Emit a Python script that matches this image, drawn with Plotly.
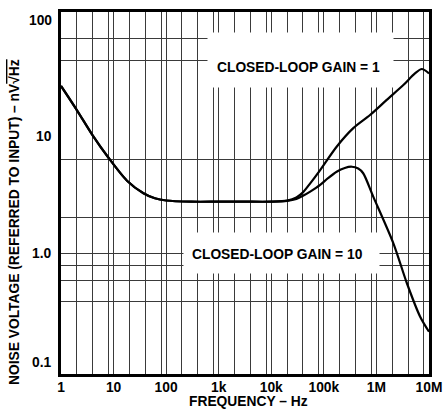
import math
import plotly.graph_objects as go

# ---- data ----
freq_g1 = [1, 2, 4, 8, 18, 37, 61, 100, 300, 1e3, 3e3, 1e4, 2e4, 3e4, 4e4, 5.5e4,
           8.5e4, 1.75e5, 3.63e5, 7.55e5, 1.57e6, 3.25e6, 5.4e6, 7.3e6, 1e7]
noise_g1 = [24.4, 15.4, 9.5, 6.2, 4.0, 3.15, 2.86, 2.74, 2.68, 2.68, 2.68, 2.68, 2.73, 2.9,
            3.2, 3.8, 4.9, 7.65, 10.9, 14.0, 18.7, 24.8, 31, 33.7, 31]

freq_g10 = [1, 2, 4, 8, 18, 37, 61, 100, 300, 1e3, 3e3, 1e4, 2e4, 3e4, 4e4, 5.5e4,
            8.5e4, 1.2e5, 1.75e5, 2.5e5, 3.4e5, 4.5e5, 5.6e5, 8.7e5, 2.1e6, 3.8e6, 6.75e6, 1e7]
noise_g10 = [24.4, 15.4, 9.5, 6.2, 4.0, 3.15, 2.86, 2.74, 2.68, 2.68, 2.68, 2.68, 2.72, 2.82,
             3.0, 3.25, 3.69, 4.2, 4.75, 5.1, 5.22, 5.05, 4.61, 2.95, 1.21, 0.565, 0.30, 0.224]

x_tick_vals = [1, 10, 100, 1e3, 1e4, 1e5, 1e6, 1e7]
x_tick_text = ["1", "10", "100", "1k", "10k", "100k", "1M", "10M"]
y_tick_vals = [0.1, 1, 10, 100]
y_tick_text = ["0.1", "1.0", "10", "100"]
y_tick_shift = [12, 0, -3.5, -8]

# grid lines: dark and light ones, as on the reference graph paper
x_grid_dark = [m * 10 ** d for d in range(0, 7) for m in (2, 4, 8)]
x_grid_light = [6 * 10 ** d for d in range(0, 7)]
y_grid_dark = [0.4, 0.6, 0.8, 1, 2, 6, 40, 60]
y_grid_light = [0.2, 4, 8, 10, 20, 80]

label_g1 = "CLOSED-LOOP GAIN = 1"
label_g10 = "CLOSED-LOOP GAIN = 10"
x_title = "FREQUENCY – Hz"
y_title = "NOISE VOLTAGE (REFERRED TO INPUT) – nV<span style='text-decoration:overline'>√Hz</span>"

FONT = "Liberation Sans, Arial, Helvetica, sans-serif"
FS = 13.8
GRID = "#3a3a3a"
GRID_LIGHT = "#a8a8a8"

fig = go.Figure()
fig.add_trace(go.Scatter(x=freq_g1, y=noise_g1, mode="lines",
                         line=dict(color="black", width=2.2, shape="spline", smoothing=0.8),
                         showlegend=False, hoverinfo="skip"))
fig.add_trace(go.Scatter(x=freq_g10, y=noise_g10, mode="lines",
                         line=dict(color="black", width=2.2, shape="spline", smoothing=0.8),
                         showlegend=False, hoverinfo="skip"))

fig.update_layout(
    xaxis=dict(type="log", range=[0, 7], tickvals=x_tick_vals, ticktext=x_tick_text,
               tickfont=dict(family=FONT, size=FS, color="black", weight="bold"),
               showgrid=True, gridcolor=GRID, gridwidth=1, ticks="",
               showline=True, linecolor="black", linewidth=2.5, mirror=True,
               minor=dict(tickvals=x_grid_dark, showgrid=True, gridcolor=GRID, gridwidth=1, ticks=""),
               zeroline=False, ticklabelstandoff=-1, automargin=False),
    xaxis2=dict(type="log", range=[0, 7], matches="x", overlaying="x", anchor="y",
                tickvals=x_grid_light, showticklabels=False, ticks="",
                showgrid=True, gridcolor=GRID_LIGHT, gridwidth=1,
                showline=False, zeroline=False, automargin=False),
    yaxis=dict(type="log", range=[-1, 2], tickvals=y_tick_vals, showticklabels=False,
               showgrid=False, ticks="",
               showline=True, linecolor="black", linewidth=2.5, mirror=True,
               minor=dict(tickvals=y_grid_dark, showgrid=True, gridcolor=GRID, gridwidth=1, ticks=""),
               zeroline=False, automargin=False),
    yaxis2=dict(type="log", range=[-1, 2], matches="y", overlaying="y", anchor="x",
                tickvals=y_grid_light, showticklabels=False, ticks="",
                showgrid=True, gridcolor=GRID_LIGHT, gridwidth=1,
                showline=False, zeroline=False, automargin=False),
)

annotations = []
for v, t, s in zip(y_tick_vals, y_tick_text, y_tick_shift):
    annotations.append(dict(xref="paper", yref="y", x=0, y=math.log10(v),
                            text="<b>" + t + "</b>", showarrow=False, xanchor="right",
                            yanchor="middle", xshift=-7, yshift=s,
                            font=dict(family=FONT, size=FS, color="black")))

# white boxes behind the curve labels
annotations.append(dict(xref="paper", yref="paper", x=(300.5 - 61) / 368, y=(374 - 60) / 362,
                        text=" ", showarrow=False, bgcolor="white", width=185, height=54,
                        borderpad=0, xanchor="center", yanchor="middle"))
annotations.append(dict(xref="paper", yref="paper", x=(281.5 - 61) / 368, y=(374 - 253) / 362,
                        text=" ", showarrow=False, bgcolor="white", width=195, height=40,
                        borderpad=0, xanchor="center", yanchor="middle"))
annotations.append(dict(xref="paper", yref="paper", x=(298 - 61) / 368, y=(374 - 67.8) / 362,
                        text="<b>" + label_g1 + "</b>", showarrow=False,
                        xanchor="center", yanchor="middle",
                        font=dict(family=FONT, size=FS, color="black")))
annotations.append(dict(xref="paper", yref="paper", x=(277 - 61) / 368, y=(374 - 254.7) / 362,
                        text="<b>" + label_g10 + "</b>", showarrow=False,
                        xanchor="center", yanchor="middle",
                        font=dict(family=FONT, size=FS, color="black")))
annotations.append(dict(xref="paper", yref="paper", x=(248.5 - 61) / 368, y=(374 - 401) / 362,
                        text="<b>" + x_title + "</b>", showarrow=False,
                        xanchor="center", yanchor="middle",
                        font=dict(family=FONT, size=FS, color="black")))
annotations.append(dict(xref="paper", yref="paper", x=(14 - 61) / 368, y=(374 - 222) / 362,
                        text="<b>" + y_title + "</b>", showarrow=False, textangle=-90,
                        xanchor="center", yanchor="middle",
                        font=dict(family=FONT, size=FS, color="black")))

fig.update_layout(width=443, height=414, margin=dict(l=61, r=14, t=12, b=40),
                  paper_bgcolor="white", plot_bgcolor="white", annotations=annotations)

fig.write_html("out.html", config={"displayModeBar": False},
               post_script="document.body.style.margin='0';document.body.style.overflow='hidden';")
